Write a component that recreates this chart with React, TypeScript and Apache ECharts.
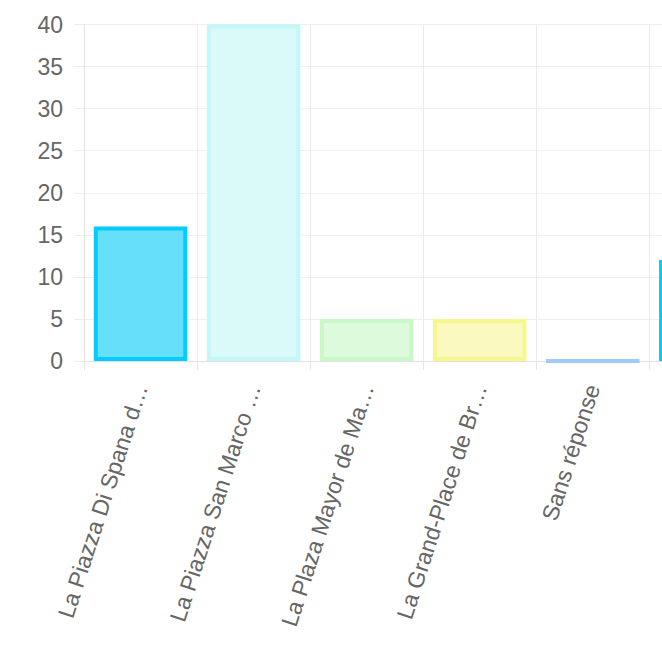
import React, { useEffect, useRef } from "react";
import * as echarts from "echarts";

const categories = [
  "La Piazza Di Spana d…",
  "La Piazza San Marco …",
  "La Plaza Mayor de Ma…",
  "La Grand-Place de Br…",
  "Sans réponse",
  "",
];
const values = [16, 40, 5, 5, 0, 12];
const fillColors = ["#66dffa", "#dafafa", "#ddfadd", "#fafac0", "#c4e0fb", "#66dffa"];
const borderColors = ["#00ccff", "#c4f7f7", "#c8f7c8", "#f7f78c", "#9ecbf8", "#00ccff"];
const yTicks = { min: 0, max: 40, interval: 5 };

const FONT = "'Liberation Sans', Arial, Helvetica, sans-serif";

export default function App() {
  const ref = useRef<HTMLDivElement>(null);
  useEffect(() => {
    if (!ref.current) return;
    const chart = echarts.init(ref.current, undefined, { renderer: "svg" });
    chart.setOption({
      animation: false,
      grid: { left: 84, top: 24.5, bottom: 301, right: 18.7, containLabel: false },
      xAxis: {
        type: "category",
        data: categories,
        axisLine: { show: true, lineStyle: { color: "#e2e2e2", width: 1 } },
        axisTick: { show: true, length: 9, lineStyle: { color: "#e6e6e6" } },
        splitLine: { show: true, lineStyle: { color: "#ececec", width: 1 } },
        axisLabel: {
          interval: 0,
          rotate: 72,
          margin: 24,
          color: "#666666",
          fontSize: 23,
          fontFamily: FONT,
        },
      },
      yAxis: {
        type: "value",
        min: yTicks.min,
        max: yTicks.max,
        interval: yTicks.interval,
        axisLine: { show: true, lineStyle: { color: "#e2e2e2", width: 1 } },
        axisTick: { show: true, length: 10, lineStyle: { color: "#ececec" } },
        splitLine: { show: true, lineStyle: { color: "#efefef", width: 1 } },
        axisLabel: {
          margin: 21,
          color: "#666666",
          fontSize: 23,
          fontFamily: FONT,
        },
      },
      series: [
        {
          type: "bar",
          barWidth: 93.5,
          data: values.map((v, i) => ({
            value: v,
            itemStyle: {
              color: fillColors[i],
              borderColor: borderColors[i],
              borderWidth: 4,
            },
          })),
        },
      ],
    });
    return () => chart.dispose();
  }, []);
  return (
    <div
      style={{
        position: "fixed",
        left: 0,
        top: 0,
        width: 662,
        height: 662,
        overflow: "hidden",
        background: "#ffffff",
      }}
    >
      <div ref={ref} style={{ width: 781, height: 662 }} />
    </div>
  );
}
